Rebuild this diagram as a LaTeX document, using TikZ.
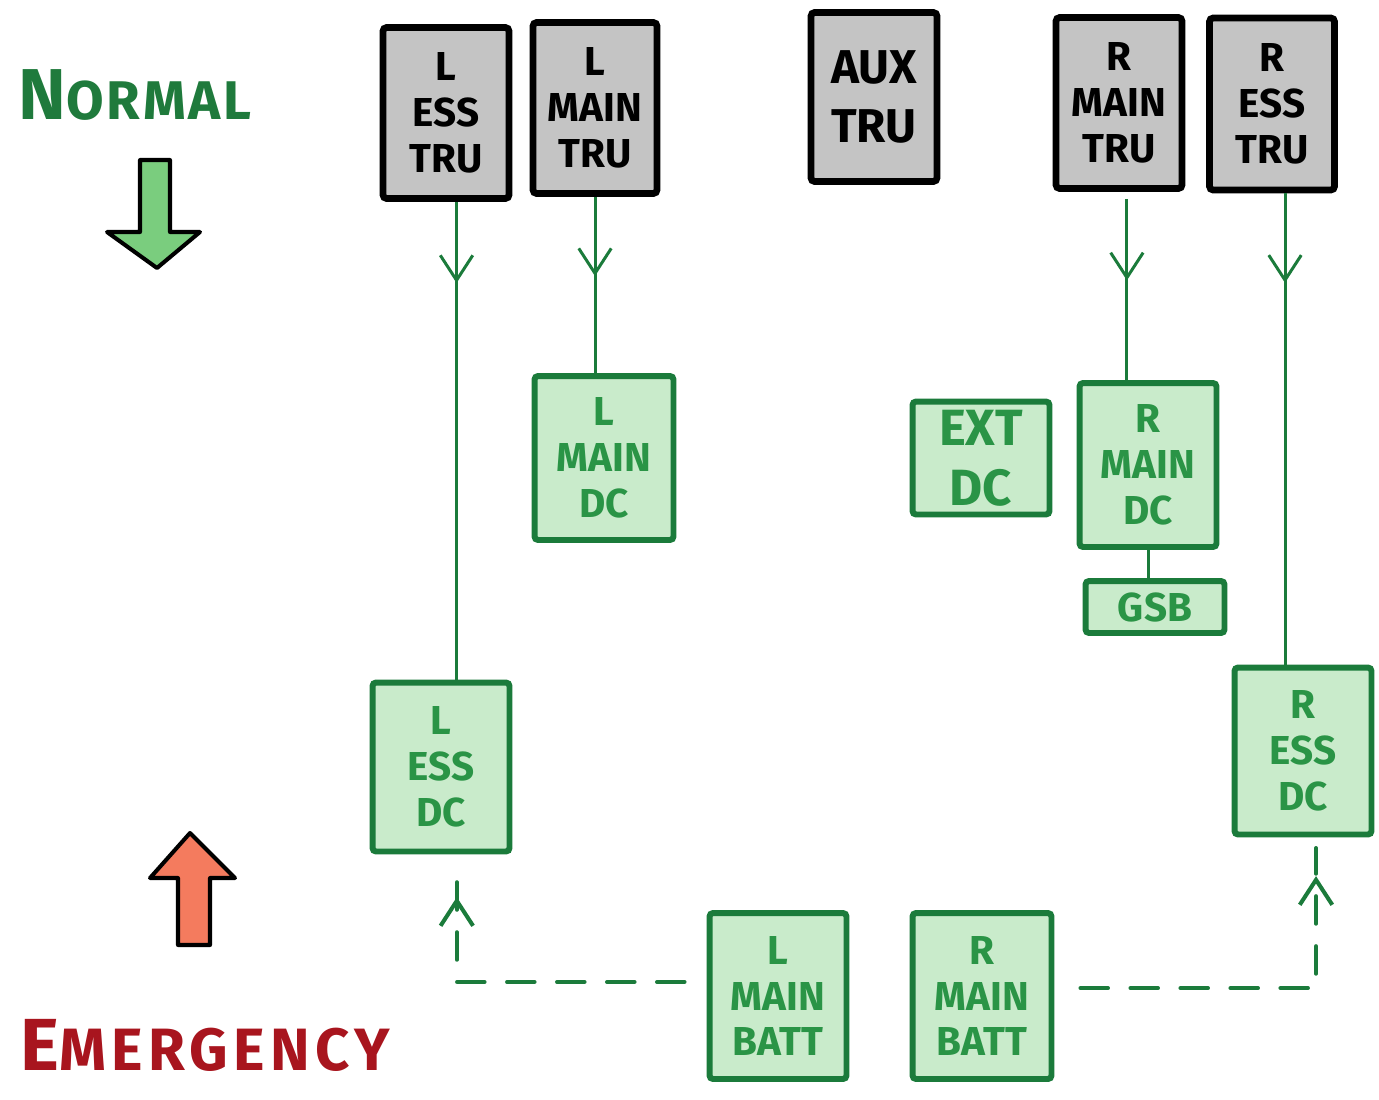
\documentclass[tikz,border=0pt]{standalone}
\usepackage{fontspec}
\setmainfont{Fira Sans}
\usetikzlibrary{arrows.meta}
\usetikzlibrary{calc}
\usetikzlibrary{decorations.markings}
\definecolor{tru-gray}{HTML}{C4C4C4}
\definecolor{bus-green}{HTML}{C9EBCB}
\definecolor{edge-green}{HTML}{1B7B3B}
\definecolor{text-green}{HTML}{2A9446}
\definecolor{normal-green}{HTML}{1F7A3C}
\definecolor{arrow-green}{HTML}{7ACD7E}
\definecolor{emergency-red}{HTML}{A8151E}
\definecolor{arrow-red}{HTML}{F47B5E}

\tikzset{
	tru/.style={draw=black, fill=tru-gray, line width=3.8pt, rounded corners=2pt, align=center, inner sep=0pt, font=\bfseries\fontsize{23}{26}\selectfont},
	bus/.style={draw=edge-green, fill=bus-green, text=text-green, line width=3.4pt, rounded corners=2pt, align=center, inner sep=0pt, font=\bfseries\fontsize{23}{26}\selectfont},
	feed/.style={draw=edge-green, line width=1.7pt, postaction={decorate},
		decoration={markings, mark=at position #1 with {\arrow[solid]{Straight Barb[length=0.5cm,width=0.65cm]}}}},
	backup/.style={feed=#1, line width=2.3pt, dash pattern=on 0.55cm off 0.45cm, line cap=round},
	bigarrow/.style={draw=black, line width=2.3pt, line join=round}
}

\begin{document}
\begin{tikzpicture}[x=0.02cm, y=-0.02cm]
	
	\useasboundingbox (0,0) rectangle (1379,1099);
	
	%--- LABELS AND BIG ARROWS --------------
	
	\node[text=normal-green, font=\bfseries] (normal) at (135,95)
		{\addfontfeature{LetterSpace=5}\fontsize{41}{41}\selectfont N\fontsize{31}{31}\selectfont ORMAL};
	\node[text=emergency-red, font=\bfseries] (emergency) at (205,1045)
		{\addfontfeature{LetterSpace=9}\fontsize{42}{42}\selectfont E\fontsize{34}{34}\selectfont MERGENCY};
	
	% Green arrow (down)
	\draw[bigarrow, fill=arrow-green] (140,160) -- (170,160) -- (170,232) -- (200,232) -- (157,268) -- (107,232) -- (140,232) -- cycle;
	
	% Red arrow (up)
	\draw[bigarrow, fill=arrow-red] (178,945) -- (178,878) -- (150,878) -- (190,833) -- (235,878) -- (210,878) -- (210,945) -- cycle;
	
	%--- TRU NODES --------------------------
	
	\node[tru, minimum width=2.52cm, minimum height=3.42cm] (lesstru) at (446,113) {L\\ESS\\TRU};
	\node[tru, minimum width=2.48cm, minimum height=3.42cm] (lmaintru) at (595,108) {L\\MAIN\\TRU};
	\node[tru, minimum width=2.52cm, minimum height=3.38cm, font=\bfseries\fontsize{27}{34}\selectfont] (auxtru) at (874,97) {AUX\\TRU};
	\node[tru, minimum width=2.52cm, minimum height=3.42cm] (rmaintru) at (1119,103) {R\\MAIN\\TRU};
	\node[tru, minimum width=2.50cm, minimum height=3.44cm] (resstru) at (1272,104) {R\\ESS\\TRU};
	
	%--- BUS NODES --------------------------
	
	\node[bus, minimum width=2.78cm, minimum height=3.28cm] (lmaindc) at (604,458) {L\\MAIN\\DC};
	\node[bus, minimum width=2.74cm, minimum height=2.26cm, font=\bfseries\fontsize{29}{34}\selectfont] (extdc) at (981,458) {EXT\\DC};
	\node[bus, minimum width=2.74cm, minimum height=3.28cm] (rmaindc) at (1148,465) {R\\MAIN\\DC};
	\node[bus, minimum width=2.78cm, minimum height=1.04cm] (gsb) at (1155,607) {GSB};
	\node[bus, minimum width=2.74cm, minimum height=3.38cm] (lessdc) at (441,767) {L\\ESS\\DC};
	\node[bus, minimum width=2.74cm, minimum height=3.34cm] (ressdc) at (1303,751) {R\\ESS\\DC};
	\node[bus, minimum width=2.74cm, minimum height=3.32cm] (lbatt) at (778,996) {L\\MAIN\\BATT};
	\node[bus, minimum width=2.78cm, minimum height=3.32cm] (rbatt) at (982,996) {R\\MAIN\\BATT};
	
	%--- CONNECTORS -------------------------
	
	% Normal feeds
	\draw[feed=0.17] ([xshift=6pt]lesstru.south) -- ([xshift=6pt]lesstru.south |- lessdc.north);
	\draw[feed=0.45] (lmaintru.south) -- (lmaintru.south |- lmaindc.north);
	\draw[feed=0.45] ([xshift=4.5pt,yshift=-4pt]rmaintru.south) -- ([xshift=4.5pt]rmaintru.south |- rmaindc.north);
	\draw[feed=0.19] ([xshift=7.4pt]resstru.south) -- ([xshift=7.4pt]resstru.south |- ressdc.north);
	\draw[edge-green, line width=1.7pt] (rmaindc.south) -- (rmaindc.south |- gsb.north);
	
	% Emergency feeds
	\draw[backup=0.88, shorten >=4pt] ([xshift=-0.44cm,yshift=8pt]lbatt.west) -| ([xshift=9pt]lessdc.south);
	\draw[backup=0.90, shorten >=6pt] ([xshift=0.52cm,yshift=4.5pt]rbatt.east) -| ([xshift=7.4pt]ressdc.south);
	
\end{tikzpicture}
\end{document}
